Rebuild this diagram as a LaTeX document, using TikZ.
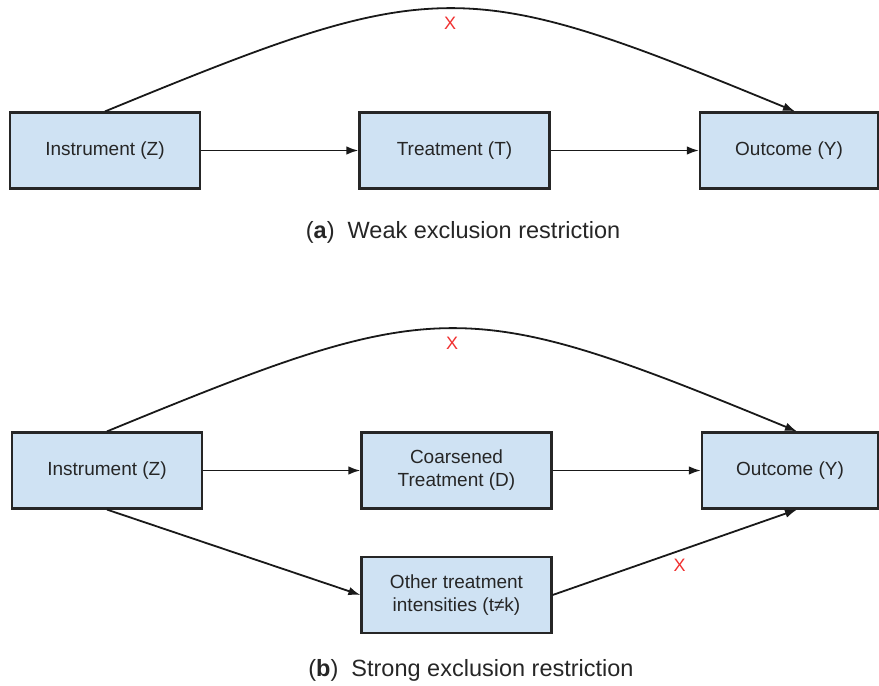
\documentclass[tikz,border=0pt]{standalone}
\usepackage{fontspec}
\setmainfont{Liberation Sans}
\usetikzlibrary{arrows.meta}
\definecolor{cajaazul}{HTML}{CFE2F3}
\definecolor{cruzroja}{HTML}{F03030}

\begin{document}
\begin{tikzpicture}[
    x=1pt, y=-1pt, >={Latex[length=12pt,width=8.5pt]},
    caja/.style={draw=black!85, fill=cajaazul, line width=2.2pt, minimum width=190pt, minimum height=76pt, align=center, font=\fontsize{19}{23}\selectfont, text=black!85},
    flecha/.style={->, line width=1.8pt, black!90},
    cruz/.style={text=cruzroja, font=\fontsize{18}{20}\selectfont, inner sep=1pt},
    leyenda/.style={font=\fontsize{23.5}{27}\selectfont, text=black!85}
]
    \useasboundingbox (0,0) rectangle (879,686);

    % (a) RESTRICCION DEBIL
    \node[caja] (Z1) at (105,150.5) {Instrument (Z)};
    \node[caja] (T1) at (454.5,150.5) {Treatment (T)};
    \node[caja, minimum width=178pt] (Y1) at (789,150.5) {Outcome (Y)};
    \draw[flecha] (Z1) -- (T1);
    \draw[flecha] (T1) -- (Y1);
    \draw[flecha] (Z1.north) .. controls +(333,-137) and +(-333,-137) .. ([xshift=6pt]Y1.north)
        node[cruz, pos=0.5, below=7pt] {X};
    \node[leyenda] (capA) at (463,232) {(\textbf{a})\ \ Weak exclusion restriction};

    % (b) RESTRICCION FUERTE
    \node[caja] (Z2) at (107,470.5) {Instrument (Z)};
    \node[caja] (D2) at (456.5,470.5) {Coarsened\\Treatment (D)};
    \node[caja, minimum width=176pt] (Y2) at (790,470.5) {Outcome (Y)};
    \node[caja] (O2) at (456.5,595) {Other treatment\\intensities (t≠k)};
    \draw[flecha] (Z2) -- (D2);
    \draw[flecha] (D2) -- (Y2);
    \draw[flecha] (Z2.north) .. controls +(333,-137) and +(-333,-137) .. ([xshift=7pt]Y2.north)
        node[cruz, pos=0.5, below=7pt] {X};
    \draw[flecha] (Z2.south) -- (O2.west);
    \draw[flecha] (O2.east) -- ([xshift=7pt]Y2.south)
        node[cruz, pos=0.52, below=7pt] {X};
    \node[leyenda] (capB) at (471,670) {(\textbf{b})\ \ Strong exclusion restriction};

\end{tikzpicture}
\end{document}
